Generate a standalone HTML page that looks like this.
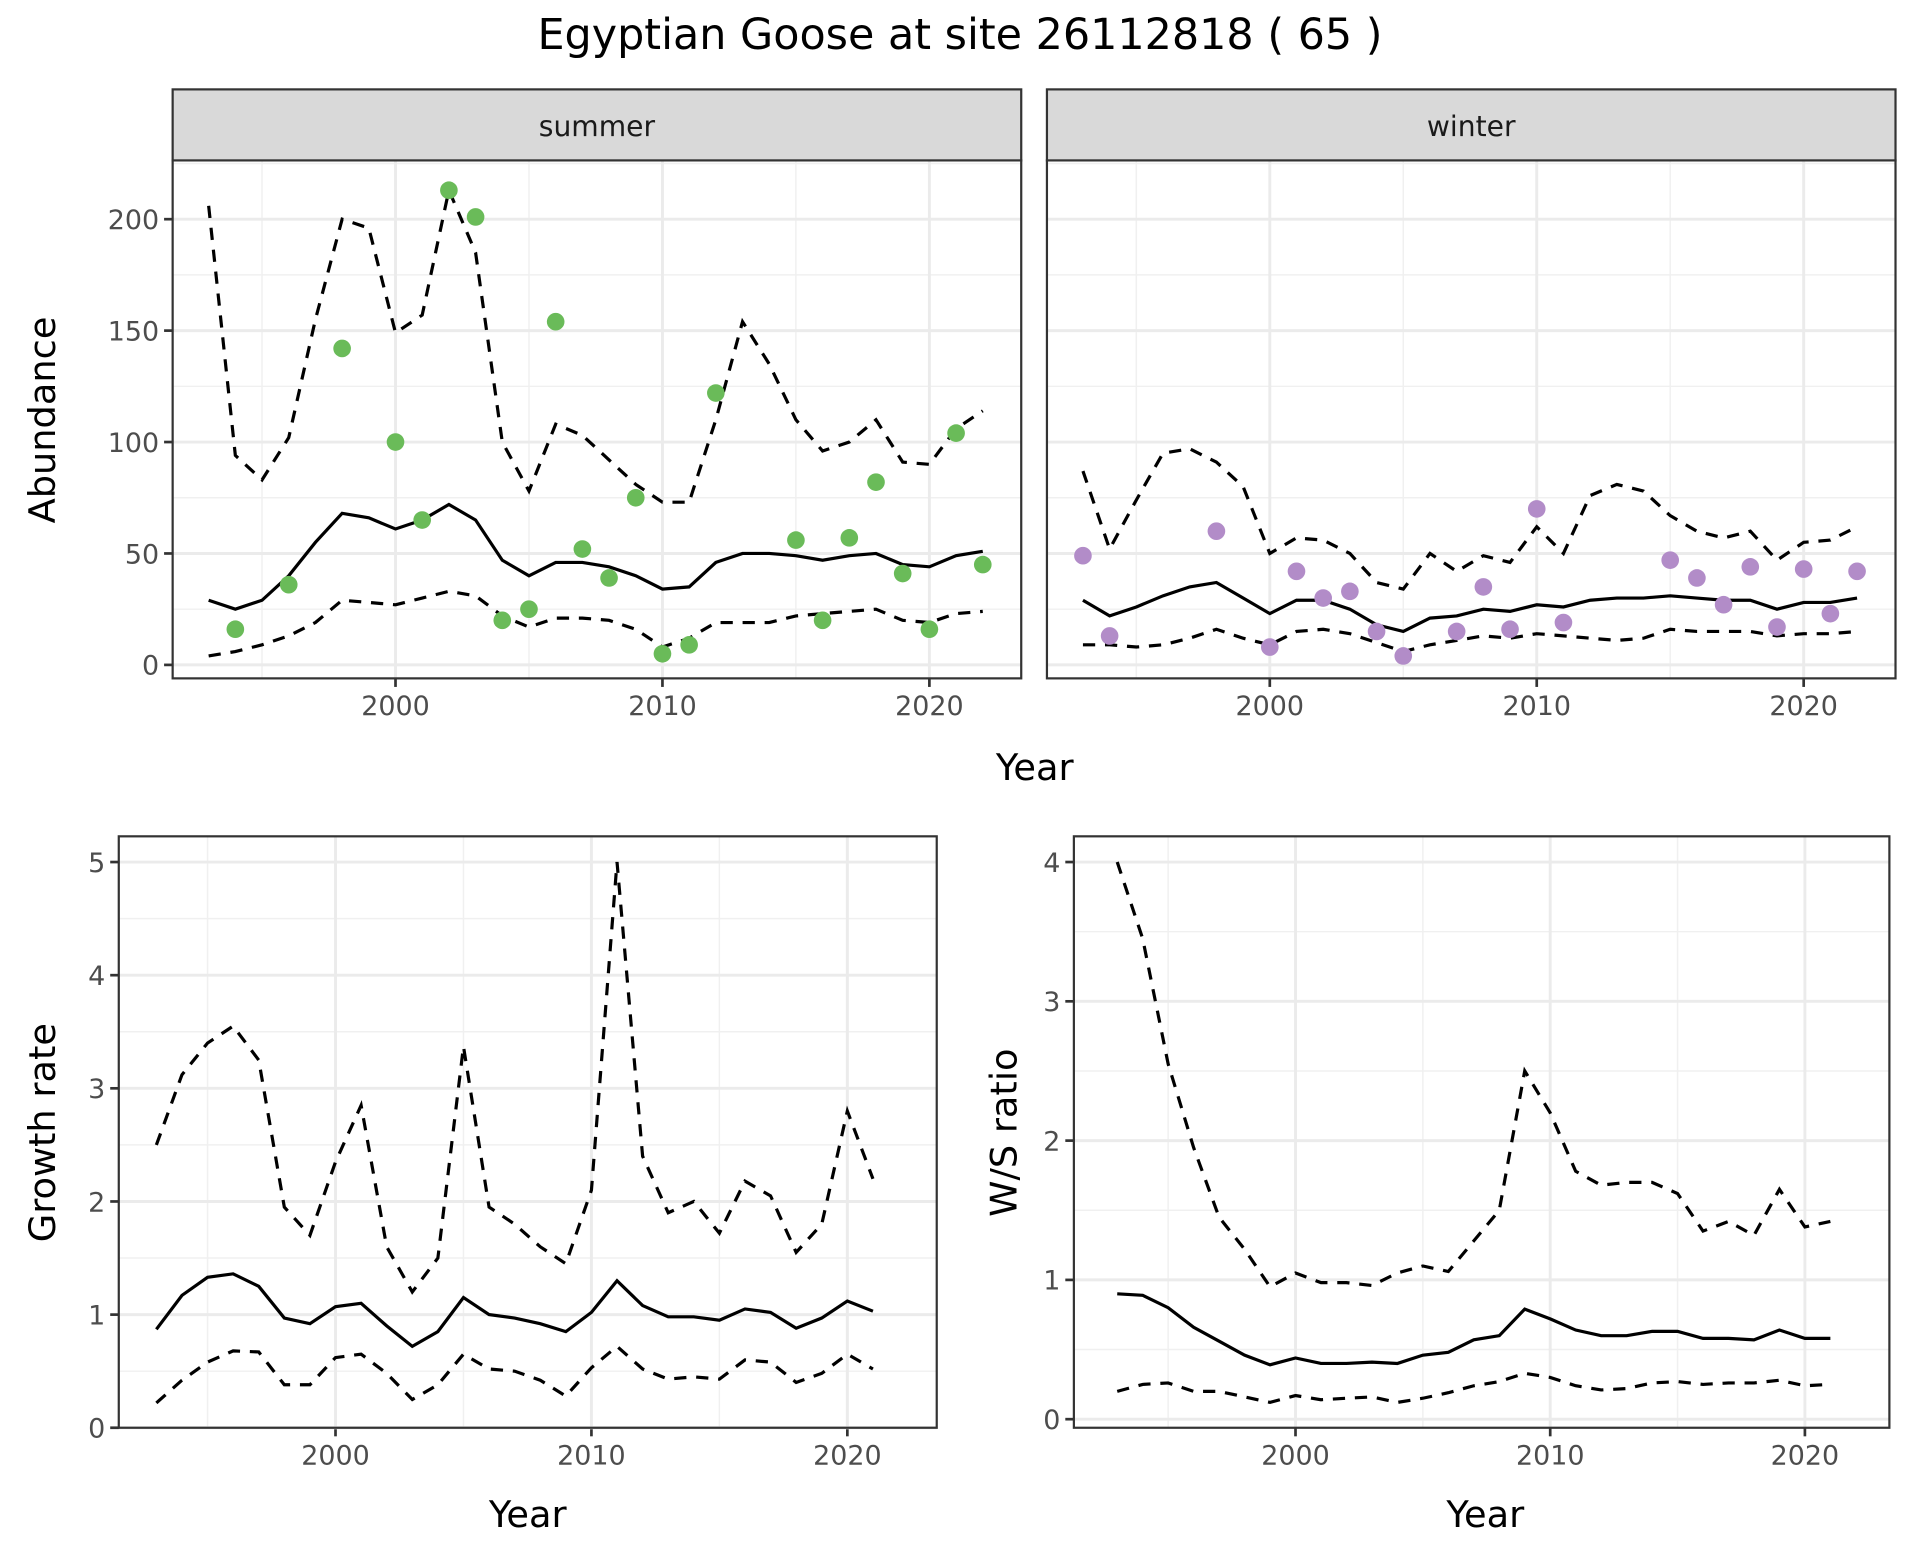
<!DOCTYPE html>
<html><head><meta charset="utf-8"><style>
html,body{margin:0;padding:0;background:#fff}
svg{display:block;font-family:"DejaVu Sans","Liberation Sans",sans-serif}
</style></head><body>
<svg id="chart" width="1920" height="1560" viewBox="0 0 1568 1274" preserveAspectRatio="none" xmlns="http://www.w3.org/2000/svg">
<rect width="1568" height="1274" fill="#fff"/>
<text x="784" y="40" font-size="35" text-anchor="middle" fill="#000">Egyptian Goose at site 26112818 ( 65 )</text>
</svg>
<script>
const years = [1993,1994,1995,1996,1997,1998,1999,2000,2001,2002,2003,2004,2005,2006,2007,2008,2009,2010,2011,2012,2013,2014,2015,2016,2017,2018,2019,2020,2021,2022];
const summerPtYears = [1994,1996,1998,2000,2001,2002,2003,2004,2005,2006,2007,2008,2009,2010,2011,2012,2015,2016,2017,2018,2019,2020,2021,2022];
const summerPtVals = [16,36,142,100,65,213,201,20,25,154,52,39,75,5,9,122,56,20,57,82,41,16,104,45];
const summerMean = [29,25,29,40,55,68,66,61,65,72,65,47,40,46,46,44,40,34,35,46,50,50,49,47,49,50,45,44,49,51];
const summerUpper = [206,94,83,102,155,200,196,149,157,213,185,100,78,108,103,92,81,73,73,110,154,135,110,96,100,110,91,90,106,114];
const summerLower = [4,6,9,13,19,29,28,27,30,33,31,22,17,21,21,20,16,8,12,19,19,19,22,23,24,25,20,19,23,24];
const winterPtYears = [1993,1994,1998,2000,2001,2002,2003,2004,2005,2007,2008,2009,2010,2011,2015,2016,2017,2018,2019,2020,2021,2022];
const winterPtVals = [49,13,60,8,42,30,33,15,4,15,35,16,70,19,47,39,27,44,17,43,23,42];
const winterMean = [29,22,26,31,35,37,30,23,29,29,25,18,15,21,22,25,24,27,26,29,30,30,31,30,29,29,25,28,28,30];
const winterUpper = [87,52,74,95,97,91,80,50,57,56,50,37,34,50,42,49,46,62,50,76,81,78,67,60,57,60,47,55,56,62];
const winterLower = [9,9,8,9,12,16,12,9,15,16,14,10,6,9,11,13,12,14,13,12,11,12,16,15,15,15,13,14,14,15];
const years2 = years.slice(0,29);
const growthMean = [0.87,1.17,1.33,1.36,1.25,0.97,0.92,1.07,1.1,0.9,0.72,0.85,1.15,1.0,0.97,0.92,0.85,1.02,1.3,1.08,0.98,0.98,0.95,1.05,1.02,0.88,0.97,1.12,1.03];
const growthUpper = [2.5,3.12,3.4,3.55,3.25,1.95,1.7,2.35,2.85,1.6,1.2,1.5,3.37,1.95,1.8,1.6,1.45,2.1,5.0,2.4,1.9,2.0,1.72,2.18,2.05,1.55,1.8,2.8,2.2];
const growthLower = [0.22,0.42,0.58,0.68,0.67,0.38,0.38,0.62,0.65,0.48,0.25,0.38,0.65,0.52,0.5,0.42,0.28,0.53,0.72,0.52,0.43,0.45,0.43,0.6,0.58,0.4,0.48,0.65,0.52];
const ratioMean = [0.9,0.89,0.8,0.66,0.56,0.46,0.39,0.44,0.4,0.4,0.41,0.4,0.46,0.48,0.57,0.6,0.79,0.72,0.64,0.6,0.6,0.63,0.63,0.58,0.58,0.57,0.64,0.58,0.58];
const ratioUpper = [4.0,3.45,2.55,1.95,1.45,1.22,0.95,1.05,0.98,0.98,0.96,1.05,1.1,1.06,1.28,1.5,2.5,2.2,1.78,1.68,1.7,1.7,1.62,1.35,1.42,1.32,1.65,1.38,1.42];
const ratioLower = [0.2,0.25,0.26,0.2,0.2,0.16,0.12,0.17,0.14,0.15,0.16,0.12,0.15,0.19,0.24,0.27,0.33,0.3,0.24,0.21,0.22,0.26,0.27,0.25,0.26,0.26,0.28,0.24,0.25];
const xTicks = [2000,2010,2020];
const abundTicks = [0,50,100,150,200];
const growthTicks = [0,1,2,3,4,5];
const ratioTicks = [0,1,2,3,4];

const svg = document.getElementById('chart');
const NS = 'http://www.w3.org/2000/svg';
function mk(tag, attrs, parent){
  const e = document.createElementNS(NS, tag);
  for (const k in attrs) e.setAttribute(k, attrs[k]);
  (parent||svg).appendChild(e);
  return e;
}
function panel(name, x0, x1, y0, y1, xs, ys, yTicks, yMinorStep, showYLabels){
  const g = mk('g', {});
  
  
  mk('rect', {x:x0, y:y0, width:x1-x0, height:y1-y0, fill:'#fff'}, g);
  for (let v = 1990; v <= 2030; v += 5) {
    if (v % 10 === 0) continue;
    const px = xs(v); if (px <= x0 || px >= x1) continue;
    mk('line', {x1:px, x2:px, y1:y0, y2:y1, stroke:'#f0f0f0', 'stroke-width':1.2}, g);
  }
  for (let i = 0; i < yTicks.length; i++) {
    const v = yTicks[i] + yMinorStep; const py = ys(v);
    if (py > y0 && py < y1) mk('line', {x1:x0, x2:x1, y1:py, y2:py, stroke:'#f0f0f0', 'stroke-width':1.2}, g);
  }
  for (const v of xTicks) { const px = xs(v);
    mk('line', {x1:px, x2:px, y1:y0, y2:y1, stroke:'#ebebeb', 'stroke-width':2.4}, g);
    mk('line', {x1:px, x2:px, y1:y1, y2:y1+7, stroke:'#333', 'stroke-width':2.2}, g);
    const tx = mk('text', {x:px, y:y1+30, 'font-size':22, fill:'#4d4d4d', 'text-anchor':'middle'}, g);
    
    
    tx.textContent = v;
  }
  for (const v of yTicks) { const py = ys(v);
    mk('line', {x1:x0, x2:x1, y1:py, y2:py, stroke:'#ebebeb', 'stroke-width':2.4}, g);
    if (showYLabels) {
      mk('line', {x1:x0-7, x2:x0, y1:py, y2:py, stroke:'#333', 'stroke-width':2.2}, g);
      const tx = mk('text', {x:x0-11, y:py+8, 'font-size':22, fill:'#4d4d4d', 'text-anchor':'end'}, g);
      
      
      tx.textContent = v;
    }
  }
  return g;
}
function line(g, xsArr, vals, xs, ys, dashed, name){
  const d = vals.map((v,i)=>(i?'L':'M')+xs(xsArr[i]).toFixed(1)+','+ys(v).toFixed(1)).join('');
  const p = mk('path', {d, fill:'none', stroke:'#000', 'stroke-width':2.6, 'stroke-dasharray': dashed?'10,8':'none'}, g);
  
  
}
function border(g, x0, x1, y0, y1){
  mk('rect', {x:x0, y:y0, width:x1-x0, height:y1-y0, fill:'none', stroke:'#333', 'stroke-width':1.8}, g);
}
function points(g, xsArr, vals, xs, ys, color, name){
  vals.forEach((v,i)=>{
    const c = mk('circle', {cx:xs(xsArr[i]), cy:ys(v), r:7.2, fill:color}, g);
    
    
  });
}
function strip(x0, x1, label, name){
  const g = mk('g', {});
  
  
  mk('rect', {x:x0, y:73, width:x1-x0, height:58, fill:'#d9d9d9', stroke:'#333', 'stroke-width':1.8}, g);
  const t = mk('text', {x:(x0+x1)/2, y:111, 'font-size':23, fill:'#1a1a1a', 'text-anchor':'middle'}, g);
  t.textContent = label;
}
function axTitle(x, y, txt, rot, name){
  const t = mk('text', {x, y, 'font-size':30, fill:'#000', 'text-anchor':'middle', transform: rot?`rotate(-90 ${x} ${y})`:''});
  
  
  t.textContent = txt;
}
const yA = v => 543 - v*1.82;
const xS = v => 323 + (v-2000)*21.8;
const xW = v => 1037 + (v-2000)*21.8;
let g = panel('summer-panel', 141, 834, 131, 554, xS, yA, abundTicks, 25, true);
line(g, years, summerUpper, xS, yA, true, 'summer-upper-line');
line(g, years, summerLower, xS, yA, true, 'summer-lower-line');
line(g, years, summerMean, xS, yA, false, 'summer-mean-line');
points(g, summerPtYears, summerPtVals, xS, yA, '#6abb59', 'summer-point');
border(g, 141, 834, 131, 554);
strip(141, 834, 'summer', 'summer-strip');
g = panel('winter-panel', 855, 1548, 131, 554, xW, yA, abundTicks, 25, false);
line(g, years, winterUpper, xW, yA, true, 'winter-upper-line');
line(g, years, winterLower, xW, yA, true, 'winter-lower-line');
line(g, years, winterMean, xW, yA, false, 'winter-mean-line');
points(g, winterPtYears, winterPtVals, xW, yA, '#b28cc8', 'winter-point');
border(g, 855, 1548, 131, 554);
strip(855, 1548, 'winter', 'winter-strip');
axTitle(845, 637, 'Year', false, 'top-x-axis-title');
axTitle(45, 343, 'Abundance', true, 'abundance-y-axis-title');
const xG = v => 274 + (v-2000)*20.9;
const yG = v => 1166 - v*92.4;
g = panel('growth-panel', 97, 765, 683, 1166, xG, yG, growthTicks, 0.5, true);
line(g, years2, growthUpper, xG, yG, true, 'growth-upper-line');
line(g, years2, growthLower, xG, yG, true, 'growth-lower-line');
line(g, years2, growthMean, xG, yG, false, 'growth-mean-line');
border(g, 97, 765, 683, 1166);
axTitle(431, 1247, 'Year', false, 'growth-x-axis-title');
axTitle(45, 925, 'Growth rate', true, 'growth-y-axis-title');
const xR = v => 1058 + (v-2000)*20.8;
const yR = v => 1159 - v*113.75;
g = panel('ratio-panel', 877, 1543, 683, 1166, xR, yR, ratioTicks, 0.5, true);
line(g, years2, ratioUpper, xR, yR, true, 'ratio-upper-line');
line(g, years2, ratioLower, xR, yR, true, 'ratio-lower-line');
line(g, years2, ratioMean, xR, yR, false, 'ratio-mean-line');
border(g, 877, 1543, 683, 1166);
axTitle(1213, 1247, 'Year', false, 'ratio-x-axis-title');
axTitle(830, 925, 'W/S ratio', true, 'ratio-y-axis-title');
</script>
</body></html>
